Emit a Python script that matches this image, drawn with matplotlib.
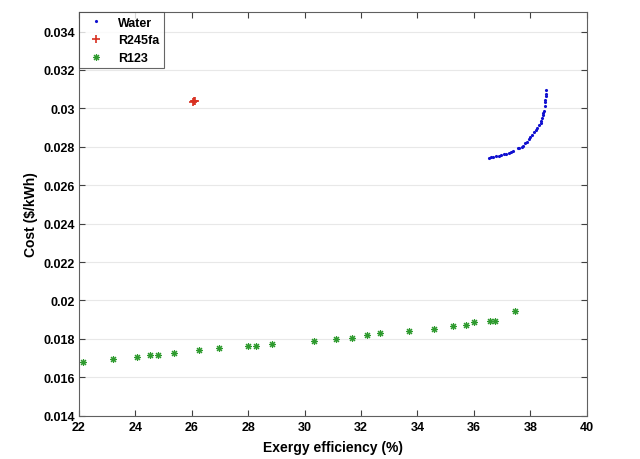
import numpy as np
import matplotlib.pyplot as plt
from matplotlib.ticker import FuncFormatter

plt.rcParams["font.family"] = ["Liberation Sans", "DejaVu Sans"]

# Water
water_eff = [36.54, 36.61, 36.69, 36.78, 36.87, 36.95, 37.05, 37.14, 37.24, 37.32,
             37.40, 37.56, 37.61, 37.70, 37.73, 37.80, 37.88, 37.95, 38.00, 38.07,
             38.13, 38.21, 38.25, 38.29, 38.37, 38.39, 38.42, 38.44, 38.46, 38.49,
             38.50, 38.50, 38.53, 38.54, 38.54, 38.55]
water_cost = [0.02744, 0.02746, 0.02747, 0.02751, 0.02754, 0.02758, 0.02761, 0.02765,
              0.02770, 0.02775, 0.02780, 0.02793, 0.02796, 0.02799, 0.02806, 0.02819,
              0.02827, 0.02839, 0.02850, 0.02864, 0.02876, 0.02890, 0.02900, 0.02911,
              0.02926, 0.02935, 0.02949, 0.02966, 0.02978, 0.02987, 0.03015, 0.03032,
              0.03046, 0.03067, 0.03077, 0.03098]

# R245fa
r245_eff = [26.06, 26.09, 26.11]
r245_cost = [0.03035, 0.03040, 0.03038]

# R123
r123_eff = [22.16, 23.20, 24.08, 24.53, 24.80, 25.39, 26.27, 26.97, 27.99, 28.27,
            28.83, 30.35, 31.13, 31.67, 32.21, 32.68, 33.70, 34.57, 35.27, 35.71,
            36.01, 36.57, 36.75, 37.46]
r123_cost = [0.01681, 0.01694, 0.01707, 0.01716, 0.01716, 0.01728, 0.01741, 0.01751,
             0.01761, 0.01761, 0.01772, 0.01791, 0.01801, 0.01806, 0.01820, 0.01831,
             0.01841, 0.01850, 0.01866, 0.01872, 0.01886, 0.01893, 0.01893, 0.01945]

fig = plt.figure(figsize=(6.4, 4.6), dpi=100)
ax = fig.add_axes([0.123, 0.094, 0.794, 0.877])

ax.plot(water_eff, water_cost, ".", color="#1010d0", markersize=2.5, label="Water")
ax.plot(r245_eff, r245_cost, "+", color="#d83020", markersize=6, markeredgewidth=1.2,
        label="R245fa")
ax.plot(r123_eff, r123_cost, marker=(8, 2, 0), linestyle="none", color="#2e9a2e",
        markersize=5, markeredgewidth=0.8, label="R123")

ax.set_xlim(22, 40)
ax.set_ylim(0.014, 0.035)
ax.set_xticks(np.arange(22, 41, 2))
ax.set_yticks(np.arange(0.014, 0.0345, 0.002))
ax.yaxis.set_major_formatter(FuncFormatter(lambda v, p: f"{v:.3f}".rstrip("0")))

ax.grid(True, axis="y", color="#e8e8e8", linewidth=0.8)
ax.set_axisbelow(True)
ax.tick_params(direction="in", top=True, right=True, length=4, width=0.8,
               color="#404040", labelsize=9)
ax.tick_params(axis="y", pad=2.5)
ax.tick_params(axis="x", pad=4)
for lbl in ax.get_xticklabels() + ax.get_yticklabels():
    lbl.set_fontweight("bold")
for sp in ax.spines.values():
    sp.set_color("#606060")

ax.set_xlabel("Exergy efficiency (%)", fontsize=10, fontweight="bold", labelpad=5)
ax.set_ylabel("Cost ($/kWh)", fontsize=10, fontweight="bold", labelpad=4)

leg = ax.legend(loc="upper left", fancybox=False, borderaxespad=0,
                prop={"weight": "bold", "size": 9}, handletextpad=0.8,
                handlelength=2.0, labelspacing=0.45, borderpad=0.35)
leg.get_frame().set_edgecolor("#404040")
leg.get_frame().set_linewidth(0.8)

plt.savefig("out.png", dpi=100)
plt.close()
